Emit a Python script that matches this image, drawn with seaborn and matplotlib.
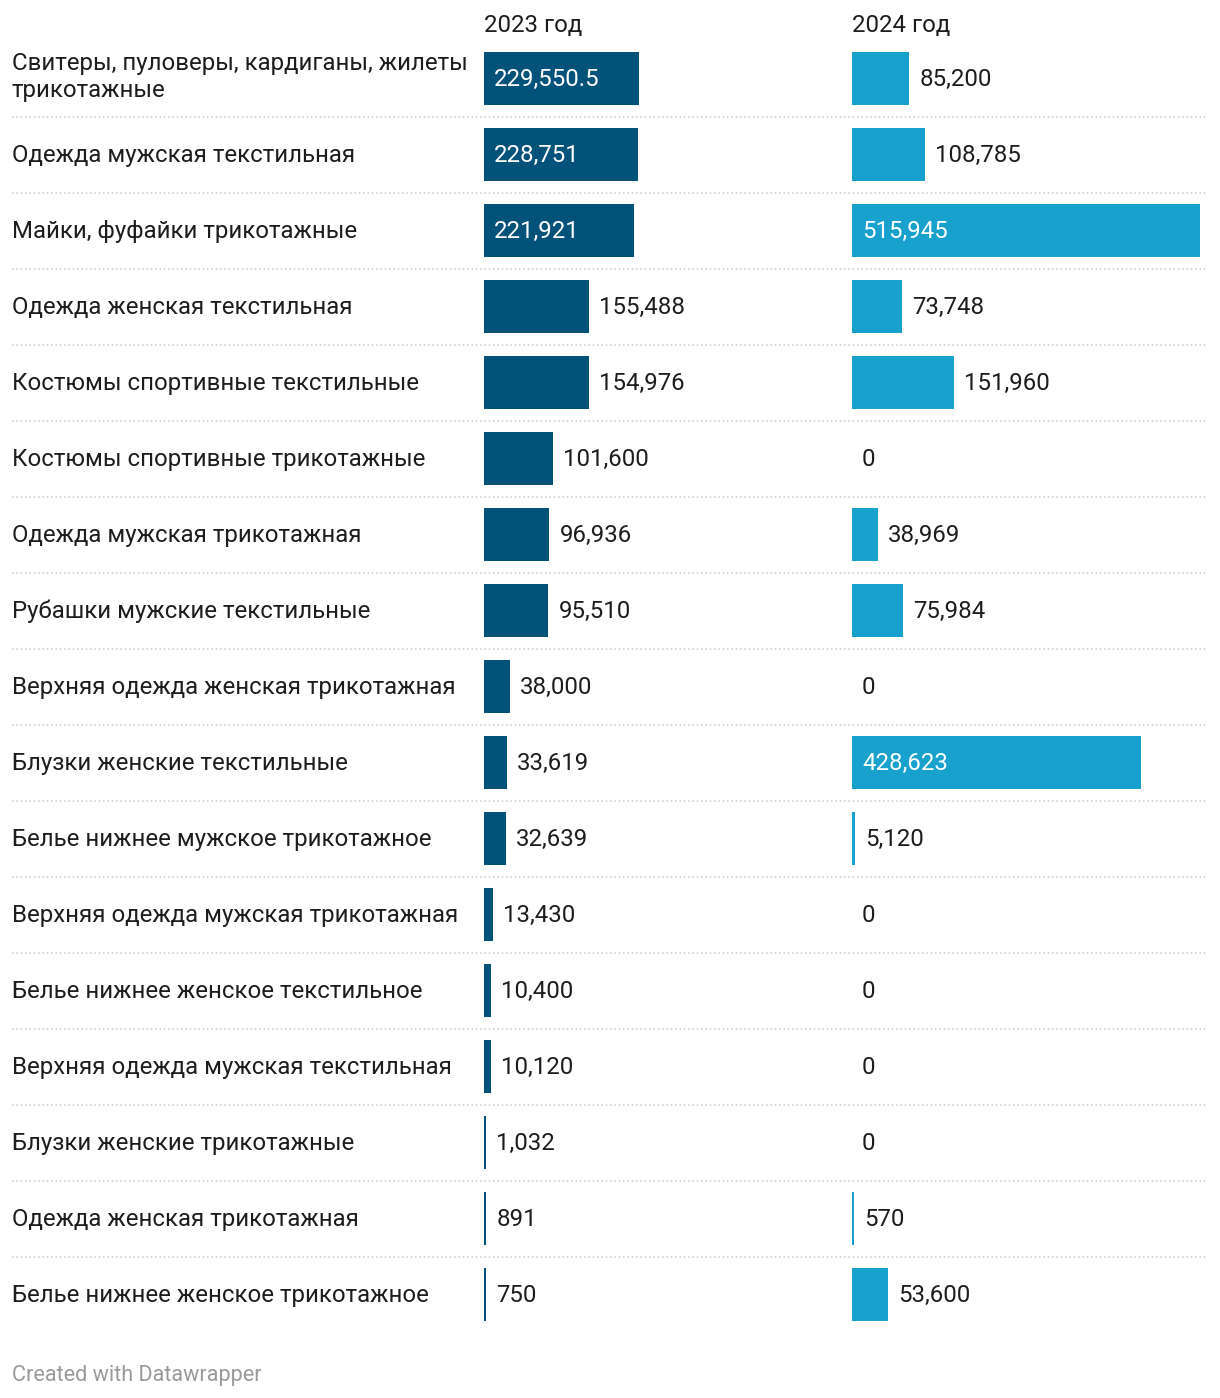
import matplotlib
matplotlib.use("Agg")
import matplotlib.pyplot as plt
import matplotlib.transforms as mtransforms
import seaborn as sns
import pandas as pd

categories = [
    "Свитеры, пуловеры, кардиганы, жилеты\nтрикотажные",
    "Одежда мужская текстильная",
    "Майки, фуфайки трикотажные",
    "Одежда женская текстильная",
    "Костюмы спортивные текстильные",
    "Костюмы спортивные трикотажные",
    "Одежда мужская трикотажная",
    "Рубашки мужские текстильные",
    "Верхняя одежда женская трикотажная",
    "Блузки женские текстильные",
    "Белье нижнее мужское трикотажное",
    "Верхняя одежда мужская трикотажная",
    "Белье нижнее женское текстильное",
    "Верхняя одежда мужская текстильная",
    "Блузки женские трикотажные",
    "Одежда женская трикотажная",
    "Белье нижнее женское трикотажное",
]
values_2023 = [229550.5, 228751, 221921, 155488, 154976, 101600, 96936, 95510,
               38000, 33619, 32639, 13430, 10400, 10120, 1032, 891, 750]
values_2024 = [85200, 108785, 515945, 73748, 151960, 0, 38969, 75984,
               0, 428623, 5120, 0, 0, 0, 0, 570, 53600]
column_titles = ["2023 год", "2024 год"]
footer = "Created with Datawrapper"

df = pd.DataFrame({"cat": categories, "2023": values_2023, "2024": values_2024})

sns.set_theme(style="white")
plt.rcParams["font.family"] = ["Roboto", "DejaVu Sans"]

W, H = 1220, 1398
DPI = 100
fig = plt.figure(figsize=(W / DPI, H / DPI), dpi=DPI)
fig.patch.set_facecolor("white")

n = len(categories)
row_h = 76
first_center = 78.5
top_px = first_center - row_h / 2
bot_px = top_px + n * row_h

def px_axes(x0, x1):
    return fig.add_axes([x0 / W, 1 - bot_px / H, (x1 - x0) / W, (bot_px - top_px) / H])

TEXT = "#1d1d1d"
colors = ["#03527a", "#18a1cd"]
xmax = max(max(values_2023), max(values_2024))

# background with separators
bg = px_axes(0, W)
bg.set_xlim(0, W)
bg.set_ylim(n - 0.5, -0.5)
bg.axis("off")
bg.hlines([i + 0.5 for i in range(n - 1)], 12, 1208, colors="#cfcfcf",
          linestyles=(0, (1, 1.6)), linewidth=1.2)

col_x = [484, 852]
col_w = 348
renderer = fig.canvas.get_renderer()
FS = 17.3

for k, (col, x0) in enumerate(zip(["2023", "2024"], col_x)):
    ax = px_axes(x0, x0 + col_w)
    ax.patch.set_alpha(0)
    sns.barplot(data=df, y="cat", x=col, orient="h", color=colors[k],
                saturation=1, width=0.7, ax=ax, linewidth=0)
    ax.set_xlim(0, xmax)
    ax.set_ylim(n - 0.5, -0.5)
    ax.axis("off")
    px_per_unit = col_w / xmax
    min_w = 2.4 / px_per_unit
    for p, v in zip(ax.patches, df[col]):
        if 0 < v and p.get_width() < min_w:
            p.set_width(min_w)
    vals = list(df[col])
    off = mtransforms.offset_copy(ax.transData, fig=fig, x=10, y=-1, units="dots")
    for i, v in enumerate(vals):
        label = f"{v:,.1f}" if v != int(v) else f"{int(v):,}"
        bar_px = 0 if v == 0 else max(v * px_per_unit, 2.4)
        t = ax.text(0, i, label, fontsize=FS, va="center", ha="left", transform=off)
        tw = t.get_window_extent(renderer).width
        if bar_px >= tw + 30:
            t.set_x(0)
            t.set_color("white")
        else:
            t.set_x(0 if v == 0 else max(v, min_w))
            t.set_color(TEXT)
    fig.text(x0 / W, 1 - 25 / H, column_titles[k], fontsize=FS, color=TEXT,
             ha="left", va="center")

# category labels
trans = mtransforms.blended_transform_factory(fig.transFigure, bg.transData)
for i, c in enumerate(categories):
    y = i - 1.5 / row_h if i == 0 else i + 1.0 / row_h
    bg.text(12 / W, y, c, transform=trans, fontsize=FS, color=TEXT,
            ha="left", va="center", linespacing=1.24)

fig.text(12 / W, 1 - 1375 / H, footer, fontsize=15.6, color="#9a9a9a",
         ha="left", va="center")

fig.savefig("out.png", dpi=DPI, facecolor="white")
